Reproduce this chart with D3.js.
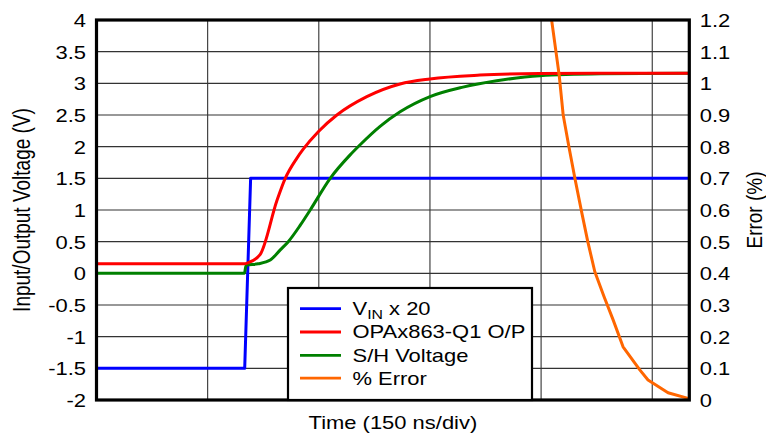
<!DOCTYPE html>
<html>
<head>
<meta charset="utf-8">
<script src="https://cdn.jsdelivr.net/npm/d3@7"></script>
<style>
  html, body { margin: 0; padding: 0; background: #fff; }
  svg { display: block; }
  text { font-family: "Liberation Sans", Arial, sans-serif; fill: #000; }
</style>
</head>
<body>
<svg id="chart" width="766" height="435"></svg>
<script>
// ---- Data (time in ns) ----
const vinTime = [0, 200, 208, 800];
const vinValue = [-1.5, -1.5, 1.5, 1.5];

const opaTime = [0, 199, 205, 221, 243.5, 254.7, 270.5, 279, 299.6, 324.4, 364.8, 409.7, 450, 517.5, 598, 680, 800];
const opaValue = [0.15, 0.15, 0.17, 0.30, 1.15, 1.50, 1.82, 1.96, 2.24, 2.50, 2.79, 2.99, 3.07, 3.13, 3.155, 3.16, 3.16];

const shTime = [0, 199.5, 202, 218, 234.5, 248, 258.8, 275, 288.4, 315.4, 342.3, 355.8, 382.7, 409.7, 450.1, 494.6, 540, 598.4, 680, 800];
const shValue = [0, 0, 0.13, 0.15, 0.21, 0.37, 0.5, 0.76, 1.0, 1.5, 1.87, 2.03, 2.32, 2.55, 2.79, 2.94, 3.04, 3.12, 3.15, 3.16];

const errTime = [609, 614.2, 624.4, 629.8, 637.9, 645.6, 654.6, 663, 672.5, 685, 697.2, 710.6, 733.2, 744.3, 771.3, 798.3];
const errValue = [1.29, 1.2, 1.026, 0.9, 0.795, 0.70, 0.595, 0.5, 0.405, 0.326, 0.253, 0.168, 0.095, 0.063, 0.023, 0.005];

const leftTicks = [-2, -1.5, -1, -0.5, 0, 0.5, 1, 1.5, 2, 2.5, 3, 3.5, 4];
const leftTickLabels = ["-2", "-1.5", "-1", "-0.5", "0", "0.5", "1", "1.5", "2", "2.5", "3", "3.5", "4"];
const rightTicks = [0, 0.1, 0.2, 0.3, 0.4, 0.5, 0.6, 0.7, 0.8, 0.9, 1.0, 1.1, 1.2];
const rightTickLabels = ["0", "0.1", "0.2", "0.3", "0.4", "0.5", "0.6", "0.7", "0.8", "0.9", "1", "1.1", "1.2"];
const timeGrid = [150, 300, 450, 600, 750];

const seriesNames = ["V_IN x 20", "OPAx863-Q1 O/P", "S/H Voltage", "% Error"];
const seriesColors = ["#0000ff", "#ff0000", "#008000", "#ff6600"];

// ---- Layout ----
const X0 = 96.5, X1 = 689.3, Y0 = 20, Y1 = 400;
const SX = 1.22;       // horizontal stretch of the text
const FS = 18;         // base font size

const svg = d3.select("#chart");
svg.append("rect").attr("width", 766).attr("height", 435).attr("fill", "#fff");

const x = d3.scaleLinear().domain([0, 800]).range([X0, X1]);
const yL = d3.scaleLinear().domain([-2, 4]).range([Y1, Y0]);
const yR = d3.scaleLinear().domain([0, 1.2]).range([Y1, Y0]);

// clip
svg.append("clipPath").attr("id", "plotclip")
  .append("rect").attr("x", X0).attr("y", Y0).attr("width", X1 - X0).attr("height", Y1 - Y0);

// grid
const grid = svg.append("g");
grid.selectAll("line.h").data(leftTicks.slice(1, -1)).enter().append("line")
  .attr("x1", X0).attr("x2", X1).attr("y1", d => yL(d)).attr("y2", d => yL(d))
  .attr("stroke", "#333").attr("stroke-width", 1.1);
grid.selectAll("line.v").data(timeGrid).enter().append("line")
  .attr("y1", Y0).attr("y2", Y1).attr("x1", d => x(d)).attr("x2", d => x(d))
  .attr("stroke", "#333").attr("stroke-width", 1.1);

// lines
const plot = svg.append("g").attr("clip-path", "url(#plotclip)");
function drawSeries(times, values, yScale, color, curve) {
  const pts = times.map((t, i) => [t, values[i]]);
  plot.append("path").datum(pts)
    .attr("fill", "none").attr("stroke", color).attr("stroke-width", 3)
    .attr("stroke-linejoin", "round")
    .attr("d", d3.line().x(d => x(d[0])).y(d => yScale(d[1])).curve(curve));
}
drawSeries(vinTime, vinValue, yL, seriesColors[0], d3.curveLinear);
drawSeries(shTime, shValue, yL, seriesColors[2], d3.curveMonotoneX);
drawSeries(opaTime, opaValue, yL, seriesColors[1], d3.curveMonotoneX);
drawSeries(errTime, errValue, yR, seriesColors[3], d3.curveLinear);

// frame
svg.append("rect").attr("x", X0).attr("y", Y0).attr("width", X1 - X0).attr("height", Y1 - Y0)
  .attr("fill", "none").attr("stroke", "#000").attr("stroke-width", 3.2);

// axes
const axL = d3.axisLeft(yL).tickValues(leftTicks).tickSize(0).tickPadding(10.5 / SX)
  .tickFormat((d, i) => leftTickLabels[i]);
const gL = svg.append("g").attr("transform", `translate(${X0},0)`).call(axL);
gL.select(".domain").remove();
gL.selectAll("text").attr("font-size", FS).attr("font-family", "Liberation Sans, Arial, sans-serif")
  .attr("fill", "#000").attr("dy", "0.36em").attr("transform", `scale(${SX},1)`);

const axR = d3.axisRight(yR).tickValues(rightTicks).tickSize(0).tickPadding(10.5 / SX)
  .tickFormat((d, i) => rightTickLabels[i]);
const gR = svg.append("g").attr("transform", `translate(${X1},0)`).call(axR);
gR.select(".domain").remove();
gR.selectAll("text").attr("font-size", FS).attr("font-family", "Liberation Sans, Arial, sans-serif")
  .attr("fill", "#000").attr("dy", "0.36em").attr("transform", `scale(${SX},1)`);

// axis titles
svg.append("text").attr("transform", `translate(29.5,${(Y0 + Y1) / 2}) scale(${SX},1) rotate(-90)`)
  .attr("text-anchor", "middle").attr("font-size", 19).text("Input/Output Voltage (V)");
svg.append("text").attr("transform", `translate(761.5,${(Y0 + Y1) / 2}) scale(1.15,1) rotate(-90)`)
  .attr("text-anchor", "middle").attr("font-size", 19).text("Error (%)");
svg.append("text").attr("transform", `translate(${(X0 + X1) / 2},429) scale(${SX},1)`)
  .attr("text-anchor", "middle").attr("font-size", FS).text("Time (150 ns/div)");

// legend
const lg = svg.append("g");
lg.append("rect").attr("x", 288).attr("y", 288).attr("width", 244).attr("height", 112)
  .attr("fill", "#fff").attr("stroke", "#000").attr("stroke-width", 2.2);
const baselines = [315, 338.3, 361.6, 384.5];
seriesNames.forEach((name, i) => {
  const by = baselines[i];
  lg.append("line").attr("x1", 300).attr("x2", 341).attr("y1", by - 6.3).attr("y2", by - 6.3)
    .attr("stroke", seriesColors[i]).attr("stroke-width", 2.8);
  const t = lg.append("text").attr("transform", `translate(352.5,${by}) scale(${SX},1)`)
    .attr("font-size", FS);
  if (name.startsWith("V_IN")) {
    t.append("tspan").text("V");
    t.append("tspan").attr("font-size", 13).attr("dy", 4).text("IN");
    t.append("tspan").attr("dy", -4).text(" x 20");
  } else {
    t.text(name);
  }
});
</script>
</body>
</html>
